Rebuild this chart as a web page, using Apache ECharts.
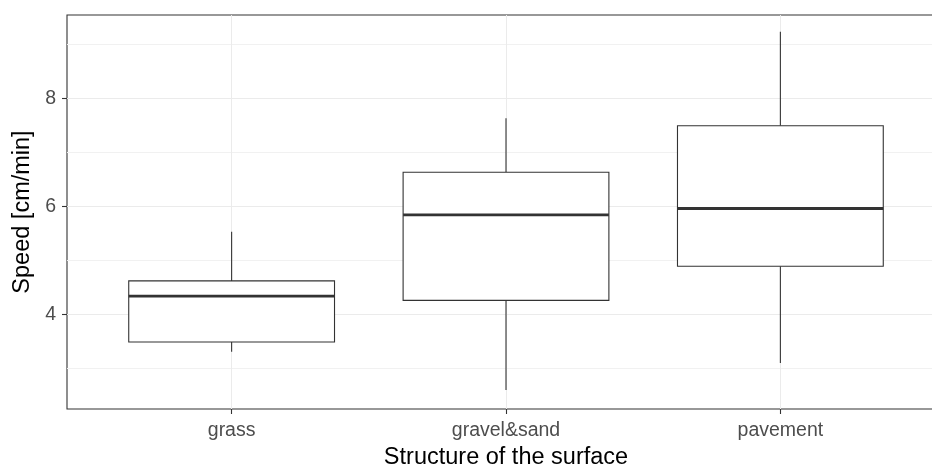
<!DOCTYPE html>
<html>
<head>
<meta charset="utf-8">
<script src="https://cdn.jsdelivr.net/npm/echarts@6/dist/echarts.min.js"></script>
<style>
html,body{margin:0;padding:0;background:#fff;}
#chart{width:932px;height:468px;}
</style>
</head>
<body>
<div id="chart"></div>
<script>
// Data
const categories = ['grass', 'gravel&sand', 'pavement'];
const whiskerLow = [3.31, 2.60, 3.10];
const q1 = [3.49, 4.26, 4.89];
const median = [4.34, 5.84, 5.96];
const q3 = [4.62, 6.63, 7.49];
const whiskerHigh = [5.53, 7.63, 9.23];
const yMajorTicks = [4, 6, 8];
const yMinorTicks = [3, 5, 7, 9];

const rows = categories.map((c, i) => [i + 1, whiskerLow[i], q1[i], median[i], q3[i], whiskerHigh[i]]);
const xTicks = categories.map((c, i) => i + 1);

const FONT = '"Liberation Sans", Arial, sans-serif';
const chart = echarts.init(document.getElementById('chart'), null, {renderer: 'canvas'});

function renderItem(params, api) {
  const x = api.value(0);
  const half = api.size([0.75, 0])[0] / 2;
  const pLow = api.coord([x, api.value(1)]);
  const pQ1 = api.coord([x, api.value(2)]);
  const pMed = api.coord([x, api.value(3)]);
  const pQ3 = api.coord([x, api.value(4)]);
  const pHigh = api.coord([x, api.value(5)]);
  const cx = pMed[0];
  const stroke = '#333333';
  return {
    type: 'group',
    children: [
      {type: 'line', shape: {x1: cx, y1: pHigh[1], x2: cx, y2: pQ3[1]}, style: {stroke, lineWidth: 1.1}},
      {type: 'line', shape: {x1: cx, y1: pLow[1], x2: cx, y2: pQ1[1]}, style: {stroke, lineWidth: 1.1}},
      {type: 'rect', shape: {x: cx - half, y: pQ3[1], width: half * 2, height: pQ1[1] - pQ3[1]},
        style: {fill: '#ffffff', stroke, lineWidth: 1.1}},
      {type: 'line', shape: {x1: cx - half, y1: pMed[1], x2: cx + half, y2: pMed[1]}, style: {stroke, lineWidth: 2.8}}
    ]
  };
}

chart.setOption({
  animation: false,
  backgroundColor: '#ffffff',
  grid: {
    left: 67, top: 15, right: -13, bottom: 59,
    containLabel: false, outerBoundsMode: 'none',
    show: true, borderColor: '#333333', borderWidth: 1.1, backgroundColor: '#ffffff'
  },
  xAxis: {
    type: 'value', min: 0.4, max: 3.6,
    name: 'Structure of the surface', nameLocation: 'middle', nameGap: 36,
    nameTextStyle: {fontFamily: FONT, fontSize: 23.5, color: '#000000'},
    axisLine: {show: false},
    axisTick: {show: true, customValues: xTicks, length: 5, lineStyle: {color: '#333333', width: 1.1}},
    axisLabel: {customValues: xTicks, fontFamily: FONT, fontSize: 19.5, color: '#4D4D4D', margin: 12,
      formatter: v => categories[Math.round(v) - 1] || ''},
    splitLine: {show: true, lineStyle: {color: '#EBEBEB', width: 1}}
  },
  yAxis: [{
    type: 'value', min: 2.25, max: 9.54,
    name: 'Speed [cm/min]', nameLocation: 'middle', nameGap: 31, nameRotate: 90,
    nameTextStyle: {fontFamily: FONT, fontSize: 23.5, color: '#000000'},
    axisLine: {show: false},
    axisTick: {show: true, customValues: yMajorTicks, length: 5, lineStyle: {color: '#333333', width: 1.1}},
    axisLabel: {customValues: yMajorTicks, fontFamily: FONT, fontSize: 19.5, color: '#4D4D4D', margin: 11},
    splitLine: {show: true, lineStyle: {color: '#EBEBEB', width: 1}}
  }, {
    type: 'value', min: 2.25, max: 9.54, position: 'left',
    axisLine: {show: false},
    axisTick: {show: false, customValues: yMinorTicks},
    axisLabel: {show: false, customValues: yMinorTicks},
    splitLine: {show: true, lineStyle: {color: '#F1F1F1', width: 1}}
  }],
  series: [{
    type: 'custom',
    renderItem,
    data: rows,
    encode: {x: 0, y: [1, 2, 3, 4, 5]},
    z: 10
  }]
});
</script>
</body>
</html>
